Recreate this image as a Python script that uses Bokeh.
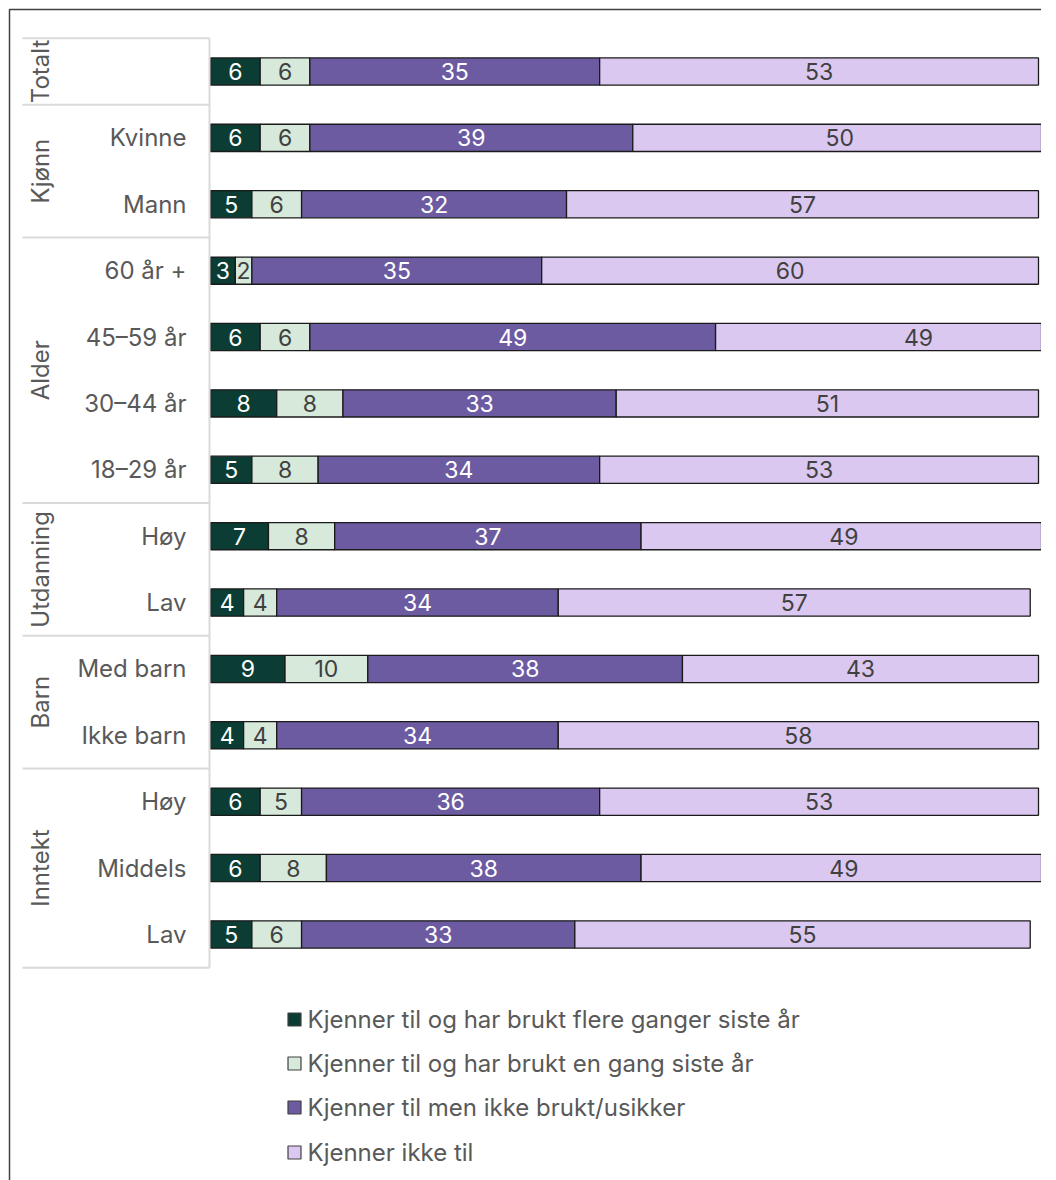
import numpy as np
from bokeh.plotting import figure
from bokeh.models import Range1d, ColumnDataSource
from bokeh.core.properties import value
from bokeh.embed import file_html
from bokeh.resources import INLINE

# ---------------- data ----------------
groups = ["Totalt", "Kjønn", "Alder", "Utdanning", "Barn", "Inntekt"]
group_sizes = [1, 2, 4, 2, 2, 3]
categories = ["", "Kvinne", "Mann", "60 år +", "45–59 år", "30–44 år", "18–29 år",
              "Høy", "Lav", "Med barn", "Ikke barn", "Høy", "Middels", "Lav"]
series_names = ["Kjenner til og har brukt flere ganger siste år",
                "Kjenner til og har brukt en gang siste år",
                "Kjenner til men ikke brukt/usikker",
                "Kjenner ikke til"]
flere_ganger = [6, 6, 5, 3, 6, 8, 5, 7, 4, 9, 4, 6, 6, 5]
en_gang = [6, 6, 6, 2, 6, 8, 8, 8, 4, 10, 4, 5, 8, 6]
ikke_brukt = [35, 39, 32, 35, 49, 33, 34, 37, 34, 38, 34, 36, 38, 33]
kjenner_ikke = [53, 50, 57, 60, 49, 51, 53, 49, 57, 43, 58, 53, 49, 55]

colors = ["#0B3D34", "#D6E9DA", "#6D5BA2", "#DBC8F0"]
label_colors = ["white", "#404040", "white", "#404040"]
FONT = "Inter"

# ---------------- geometry (page pixels -> data) ----------------
PAGE_OFF = 0
X0_PX = 210.0      # page x of value 0
SX = 8.28          # px per unit
Y0_PX = 71.0       # page y of first row
SY = 66.38         # px per row
W, H = 1041, 1180

def px(x):
    return (x - X0_PX) / SX

def py(y):
    return (y - Y0_PX) / SY

x_start = px(PAGE_OFF)
x_end = px(PAGE_OFF + W)
y_top = py(PAGE_OFF)
y_bot = py(PAGE_OFF + H)

p = figure(width=W, height=H, output_backend="svg", toolbar_location=None,
           x_range=Range1d(x_start, x_end), y_range=Range1d(y_bot, y_top),
           min_border=0)
p.xaxis.visible = False
p.yaxis.visible = False
p.xgrid.visible = False
p.ygrid.visible = False
p.outline_line_color = None
p.background_fill_color = "white"
p.border_fill_color = "white"

rows = np.arange(len(categories))
series = [flere_ganger, en_gang, ikke_brukt, kjenner_ikke]

left = np.zeros(len(categories))
for vals, col, lcol in zip(series, colors, label_colors):
    v = np.array(vals, dtype=float)
    right = left + v
    src = ColumnDataSource(dict(y=rows, left=left, right=right,
                                mid=(left + right) / 2, txt=[str(int(a)) for a in v]))
    p.hbar(y="y", left="left", right="right", height=0.41, source=src,
           fill_color=col, line_color="#1a1a1a", line_width=1.3)
    p.text(x="mid", y="y", text="txt", source=src, text_align="center",
           text_baseline="middle", text_font=value(FONT), text_font_size="23px",
           text_color=lcol)
    left = right

# row labels
p.text(x=[px(186)] * len(categories), y=rows, text=categories, text_align="right",
       text_baseline="middle", text_font=value(FONT), text_font_size="24px",
       text_color="#595959")

# group labels and separators
bounds = np.concatenate([[0], np.cumsum(group_sizes)]) - 0.5
centers = (bounds[:-1] + bounds[1:]) / 2
p.text(x=[px(40)] * len(groups), y=centers, text=groups, angle=np.pi / 2,
       text_align="center", text_baseline="middle", text_font=value(FONT),
       text_font_size="24px", text_color="#595959")
for b in bounds:
    p.line(x=[px(22), px(209)], y=[b, b], line_color="#D9D9D9", line_width=2)
p.line(x=[px(209), px(209)], y=[bounds[0], bounds[-1]], line_color="#D9D9D9", line_width=2)

# legend
leg_y = [py(1019), py(1063), py(1107), py(1152)]
p.scatter(x=[px(294)] * 4, y=leg_y, marker="square", size=13, fill_color=colors,
          line_color="#404040", line_width=1.2)
p.text(x=[px(307)] * 4, y=leg_y, text=series_names, text_align="left",
       text_baseline="middle", text_font=value(FONT), text_font_size="24px",
       text_color="#595959")

# outer border (left + top)
p.line(x=[px(9), px(9), px(PAGE_OFF + W)], y=[y_bot, py(9), py(9)],
       line_color="#404040", line_width=1.5)

open("out.html", "w").write(file_html(p, INLINE))
